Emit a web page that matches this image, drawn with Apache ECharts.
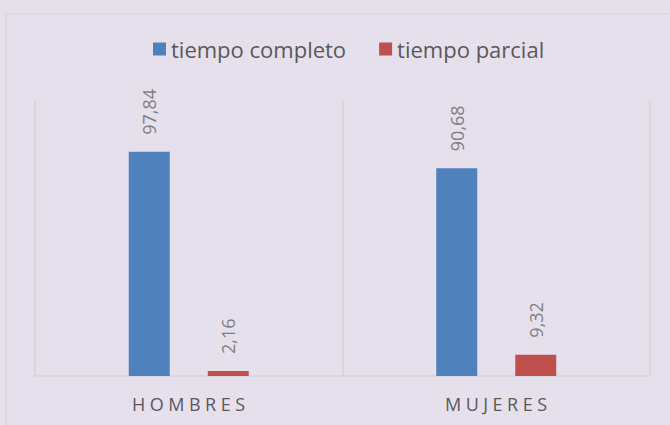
<!DOCTYPE html>
<html><head><meta charset="utf-8">
<script src="https://cdn.jsdelivr.net/npm/echarts@6/dist/echarts.min.js"></script>
<style>html,body{margin:0;padding:0;background:#e6e0ec;}#c{width:670px;height:425px;}</style>
</head><body><div id="c"></div>
<script>
const categories = ['HOMBRES', 'MUJERES'];
const seriesNames = ['tiempo completo', 'tiempo parcial'];
const tiempoCompleto = [97.84, 90.68];
const tiempoParcial = [2.16, 9.32];

const chart = echarts.init(document.getElementById('c'), null, {renderer: 'svg'});
const fmt = p => p.value.toFixed(2).replace('.', ',');
const labelCfg = {show: true, position: 'top', rotate: 90, align: 'left', verticalAlign: 'middle',
  distance: 17, color: '#7f7f7f', fontSize: 18, fontFamily: 'Open Sans', formatter: fmt};
chart.setOption({
  animation: false,
  backgroundColor: '#e6e0ec',
  graphic: [{type: 'rect', shape: {x: 6, y: 14, width: 700, height: 450},
    style: {fill: 'none', stroke: '#d9d6dc', lineWidth: 1.5}, silent: true}],
  legend: {top: 33, left: 148, itemWidth: 13, itemHeight: 13, itemGap: 33,
    icon: 'rect', textStyle: {color: '#595959', fontSize: 22, fontFamily: 'Open Sans'},
    data: seriesNames},
  grid: {left: 35, right: 20, top: 101, bottom: 49},
  xAxis: {type: 'category', data: categories,
    axisLine: {lineStyle: {color: '#d6d3d9', width: 1.5}}, axisTick: {show: false},
    splitLine: {show: true, lineStyle: {color: '#d6d3d9', width: 1.5}},
    axisLabel: {color: '#595959', fontSize: 18, fontFamily: 'Open Sans', margin: 19}},
  yAxis: {type: 'value', min: 0, max: 120, show: false, splitLine: {show: false}},
  series: [
    {name: seriesNames[0], type: 'bar', data: tiempoCompleto, barWidth: 41, barGap: '92.7%',
      itemStyle: {color: '#4f81bd'}, label: labelCfg},
    {name: seriesNames[1], type: 'bar', data: tiempoParcial, barWidth: 41,
      itemStyle: {color: '#c0504d'}, label: labelCfg}
  ]
});
function spaceLabels(){
  document.querySelectorAll('#c svg text').forEach(t => {
    if (categories.includes(t.textContent.trim())) {
      t.setAttribute('letter-spacing', '4.5px');
      t.setAttribute('dx', '2');
    }
  });
}
chart.on('rendered', spaceLabels);
spaceLabels();
</script></body></html>
